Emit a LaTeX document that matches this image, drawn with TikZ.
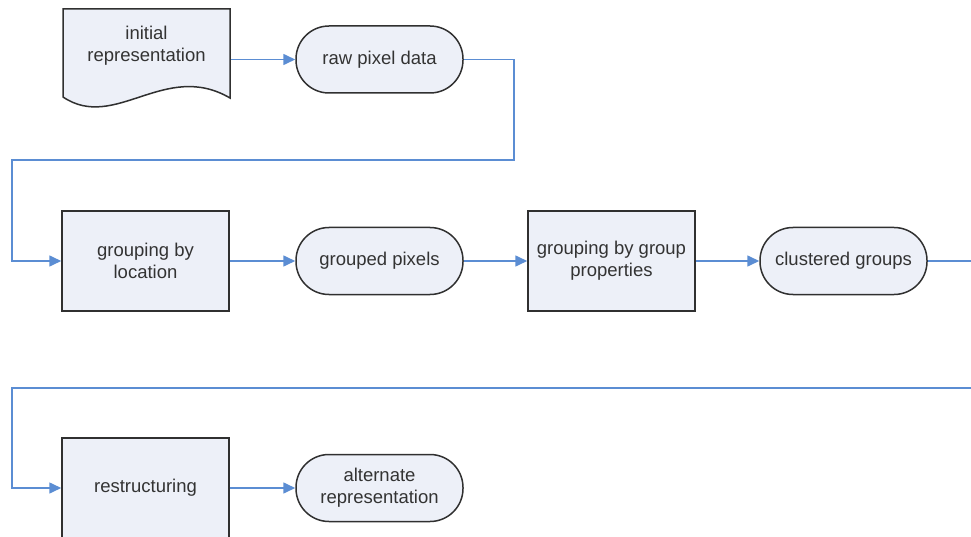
\documentclass[tikz,border=0pt]{standalone}
\usepackage{fontspec}
\setmainfont{Liberation Sans}
\usetikzlibrary{arrows.meta}
\usetikzlibrary{calc}
\usepackage{xcolor}

\definecolor{boxfill}{HTML}{EDF0F8}
\definecolor{edgegray}{HTML}{303030}
\definecolor{flowblue}{HTML}{5B8DD3}

\tikzset{
  stepbox/.style={draw=edgegray, line width=1.5pt, fill=boxfill, minimum width=167pt, minimum height=100pt, align=center, inner sep=2pt, font=\fontsize{18.5}{22}\selectfont, text=black!80},
  termbox/.style={stepbox, rounded corners=33pt, minimum height=67pt},
  flow/.style={flowblue, line width=1.6pt, -{Triangle[length=12pt,width=11pt]}},
  flowline/.style={flowblue, line width=1.6pt}
}

\begin{document}
\begin{tikzpicture}[x=1pt,y=-1pt]
      \useasboundingbox (0,0) rectangle (971,537);

      % Document shape
      \draw[draw=edgegray, line width=1.5pt, fill=boxfill] (63,9) -- (230,9) -- (230,98) .. controls (165,60) and (115,132) .. (63,97) -- cycle;
      \node[stepbox, draw=none, fill=none, minimum height=88pt] (init) at (146.5,46) {initial\\representation};

      % Nodes
      \node[termbox] (raw) at (379.5,59.5) {raw pixel data};
      \node[stepbox] (loc) at (145.5,261) {grouping by\\location};
      \node[termbox] (grouped) at (379.5,261) {grouped pixels};
      \node[stepbox] (props) at (611.5,261) {grouping by group\\properties};
      \node[termbox] (clustered) at (843.5,261) {clustered groups};
      \node[stepbox] (restr) at (145.5,488) {restructuring};
      \node[termbox] (alt) at (379.5,488) {alternate\\representation};

      % Bends
      \coordinate (bendA) at (514,160);
      \coordinate (bendB) at (12,160);
      \coordinate (edgeR) at (971,261);
      \coordinate (edgeS) at (971,388);
      \coordinate (bendC) at (12,388);

      % Connectors
      \draw[flow] (raw.west -| init.east) -- (raw.west);
      \draw[flow] (raw.east) -| (bendA) -- (bendB) |- (loc.west);
      \draw[flow] (loc.east) -- (grouped.west);
      \draw[flow] (grouped.east) -- (props.west);
      \draw[flow] (props.east) -- (clustered.west);
      \draw[flowline] (clustered.east) -- (edgeR);
      \draw[flow] (edgeS) -- (bendC) |- (restr.west);
      \draw[flow] (restr.east) -- (alt.west);

  \end{tikzpicture}
\end{document}
